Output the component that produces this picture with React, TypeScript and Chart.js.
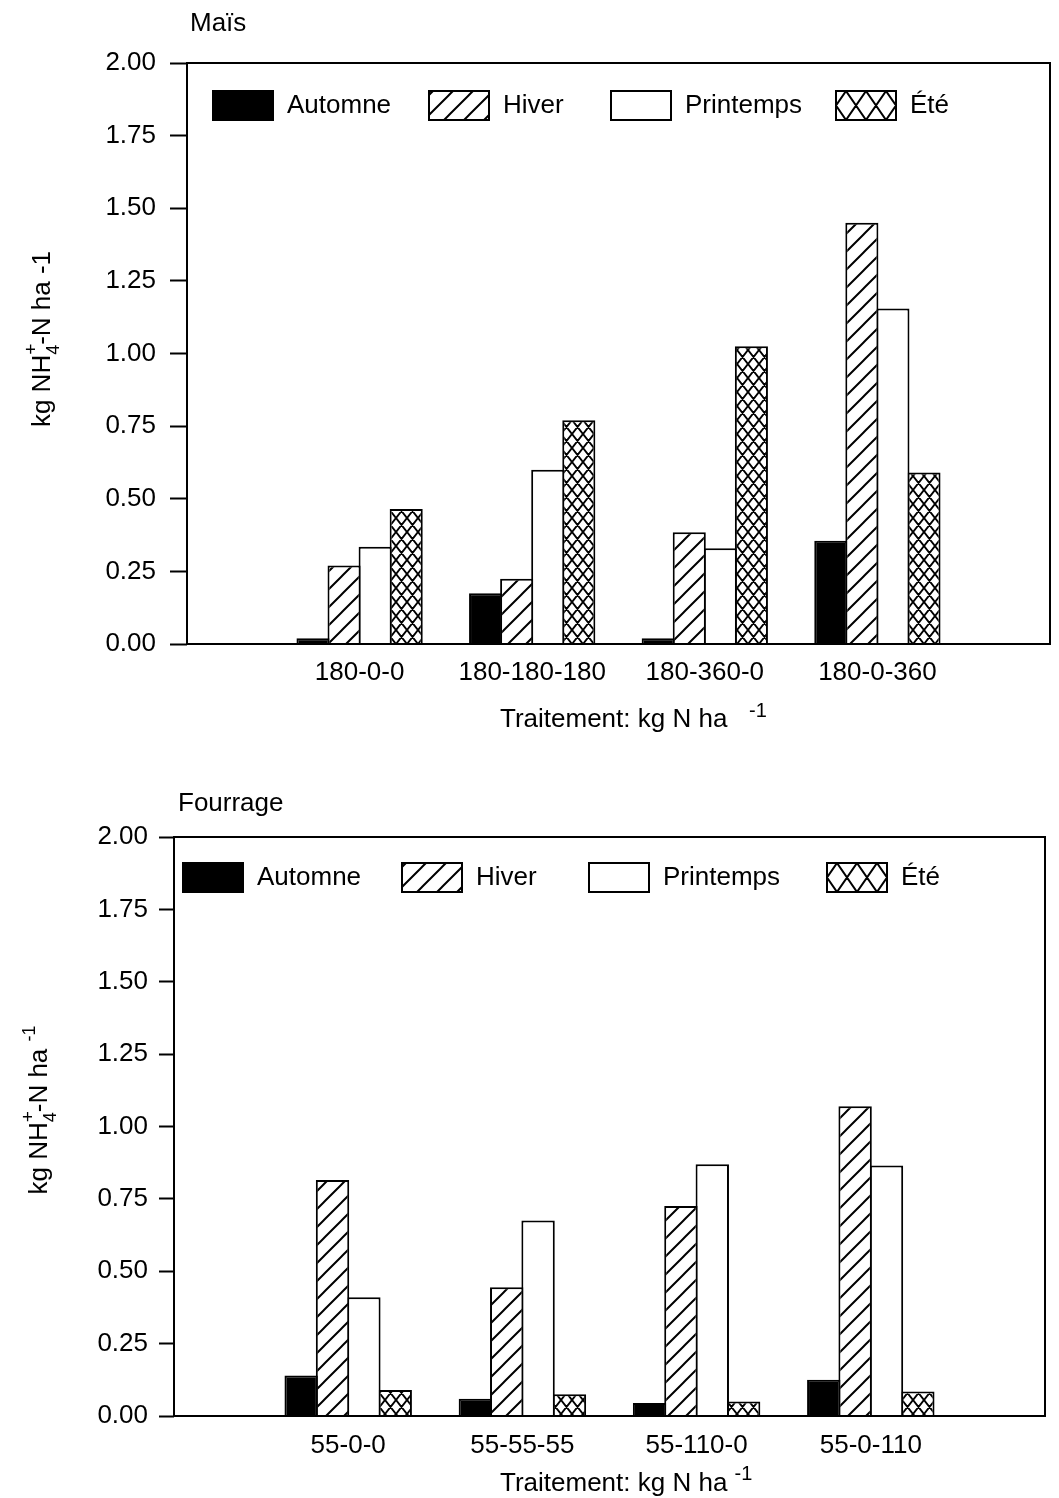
import React, { useEffect, useRef } from 'react';
import { Chart, registerables } from 'chart.js';

Chart.register(...registerables);

// ---------- data ----------
const seasons = ['Automne', 'Hiver', 'Printemps', 'Été'];

const maisTreatments = ['180-0-0', '180-180-180', '180-360-0', '180-0-360'];
const maisAutomne = [0.02, 0.175, 0.02, 0.355];
const maisHiver = [0.27, 0.225, 0.385, 1.45];
const maisPrintemps = [0.335, 0.6, 0.33, 1.155];
const maisEte = [0.465, 0.77, 1.025, 0.59];

const fourrageTreatments = ['55-0-0', '55-55-55', '55-110-0', '55-0-110'];
const fourrageAutomne = [0.14, 0.06, 0.045, 0.125];
const fourrageHiver = [0.815, 0.445, 0.725, 1.07];
const fourragePrintemps = [0.41, 0.675, 0.87, 0.865];
const fourrageEte = [0.09, 0.075, 0.05, 0.085];

const yMin = 0;
const yMax = 2;
const yStep = 0.25;

// ---------- styling ----------
const FONT = '"Liberation Sans", Arial, Helvetica, sans-serif';
const FS = 26;

type Seg = { t: string; size?: number; dy?: number; noAdvance?: boolean };

function makeCanvas(w: number, h: number) {
  const c = document.createElement('canvas');
  c.width = w;
  c.height = h;
  return c;
}

function hatchPattern(size: number, lw: number) {
  const c = makeCanvas(size, size);
  const g = c.getContext('2d')!;
  g.fillStyle = '#fff';
  g.fillRect(0, 0, size, size);
  g.strokeStyle = '#000';
  g.lineWidth = lw;
  g.beginPath();
  for (let i = -1; i <= 1; i++) {
    g.moveTo(i * size - 2, size + 2);
    g.lineTo(i * size + size + 2, -2);
  }
  g.stroke();
  return g.createPattern(c, 'repeat')!;
}

function crossPattern(w: number, h: number, lw: number) {
  const c = makeCanvas(w, h);
  const g = c.getContext('2d')!;
  g.fillStyle = '#fff';
  g.fillRect(0, 0, w, h);
  g.strokeStyle = '#000';
  g.lineWidth = lw;
  g.beginPath();
  for (let i = -1; i <= 1; i++) {
    for (let j = -1; j <= 1; j++) {
      const ox = i * w;
      const oy = j * h;
      g.moveTo(ox, oy);
      g.lineTo(ox + w, oy + h);
      g.moveTo(ox + w, oy);
      g.lineTo(ox, oy + h);
    }
  }
  g.stroke();
  return g.createPattern(c, 'repeat')!;
}

function drawRich(
  ctx: CanvasRenderingContext2D,
  segs: Seg[],
  x: number,
  y: number,
  align: 'left' | 'center',
  rotate: boolean
) {
  ctx.save();
  ctx.translate(x, y);
  if (rotate) ctx.rotate(-Math.PI / 2);
  ctx.textBaseline = 'alphabetic';
  ctx.textAlign = 'left';
  ctx.fillStyle = '#000';
  const widths = segs.map((s) => {
    ctx.font = `${s.size || FS}px ${FONT}`;
    return ctx.measureText(s.t).width;
  });
  let total = 0;
  segs.forEach((s, i) => {
    if (!s.noAdvance) total += widths[i];
  });
  let cx = align === 'center' ? -total / 2 : 0;
  segs.forEach((s, i) => {
    ctx.font = `${s.size || FS}px ${FONT}`;
    ctx.fillText(s.t, cx, s.dy || 0);
    if (!s.noAdvance) cx += widths[i];
  });
  ctx.restore();
}

interface PanelCfg {
  title: string;
  titleX: number;
  titleY: number;
  treatments: string[];
  series: number[][];
  width: number;
  height: number;
  padTop: number;
  padRight: number;
  yAxisWidth: number;
  xAxisHeight: number;
  tickLength: number;
  tickPadding: number;
  xTickPadding: number;
  legendX: number[];
  legendY: number;
  legendBoxH: number;
  yTitle: Seg[];
  yTitleX: number;
  yTitleY: number;
  xTitle: Seg[];
  xTitleX: number;
  xTitleY: number;
}

const topPanel: PanelCfg = {
  title: 'Maïs',
  titleX: 190,
  titleY: 31,
  treatments: maisTreatments,
  series: [maisAutomne, maisHiver, maisPrintemps, maisEte],
  width: 1059,
  height: 745,
  padTop: 63,
  padRight: 9,
  yAxisWidth: 187,
  xAxisHeight: 101,
  tickLength: 17,
  tickPadding: 14,
  xTickPadding: 5,
  legendX: [213, 429, 611, 836],
  legendY: 91,
  legendBoxH: 29,
  yTitle: [
    { t: 'kg NH' },
    { t: '+', size: 19, dy: -13, noAdvance: true },
    { t: '4', size: 18, dy: 9 },
    { t: '-N ha -1' },
  ],
  yTitleX: 50,
  yTitleY: 339,
  xTitle: [{ t: 'Traitement: kg N ha   ' }, { t: '-1', size: 20, dy: -10 }],
  xTitleX: 500,
  xTitleY: 727,
};

const bottomPanel: PanelCfg = {
  title: 'Fourrage',
  titleX: 178,
  titleY: 41,
  treatments: fourrageTreatments,
  series: [fourrageAutomne, fourrageHiver, fourragePrintemps, fourrageEte],
  width: 1059,
  height: 728,
  padTop: 67,
  padRight: 14,
  yAxisWidth: 174,
  xAxisHeight: 82,
  tickLength: 15,
  tickPadding: 11,
  xTickPadding: 6,
  legendX: [183, 402, 589, 827],
  legendY: 93,
  legendBoxH: 29,
  yTitle: [
    { t: 'kg NH' },
    { t: '+', size: 19, dy: -13, noAdvance: true },
    { t: '4', size: 18, dy: 9 },
    { t: '-N ha ' },
    { t: '-1', size: 18, dy: -12 },
  ],
  yTitleX: 47,
  yTitleY: 340,
  xTitle: [{ t: 'Traitement: kg N ha ' }, { t: '-1', size: 20, dy: -11 }],
  xTitleX: 500,
  xTitleY: 721,
};

function createPanel(canvas: HTMLCanvasElement, cfg: PanelCfg) {
  const barHiver = hatchPattern(18, 2);
  const barEte = crossPattern(11, 14, 1.9);
  const fills: (string | CanvasPattern)[] = ['#000', barHiver, '#fff', barEte];

  const datasets = seasons.map((s, i) => ({
    label: s,
    data: [null, ...cfg.series[i], null] as (number | null)[],
    backgroundColor: fills[i] as any,
    borderColor: '#000',
    borderWidth: 2,
    categoryPercentage: 0.72,
    barPercentage: 1.065,
  }));

  const decor = {
    id: 'decor',
    afterDraw(chart: any) {
      const ctx: CanvasRenderingContext2D = chart.ctx;
      const a = chart.chartArea;
      ctx.save();
      // frame
      ctx.strokeStyle = '#000';
      ctx.lineWidth = 2;
      ctx.strokeRect(a.left, a.top, a.right - a.left, a.bottom - a.top);

      // legend
      const boxW = 60;
      const boxH = cfg.legendBoxH;
      seasons.forEach((s, i) => {
        const x = cfg.legendX[i];
        const y = cfg.legendY;
        let fill: string | CanvasPattern = fills[i];
        if (i === 1) {
          const p = hatchPattern(20, 2);
          p.setTransform(new DOMMatrix([1, 0, 0, 1, x, y + 4]));
          fill = p;
        } else if (i === 3) {
          const p = crossPattern(20, boxH, 2);
          p.setTransform(new DOMMatrix([1, 0, 0, 1, x + 10, y]));
          fill = p;
        }
        ctx.fillStyle = fill as any;
        ctx.fillRect(x, y, boxW, boxH);
        ctx.strokeStyle = '#000';
        ctx.lineWidth = 2;
        ctx.strokeRect(x, y, boxW, boxH);
        ctx.fillStyle = '#000';
        ctx.font = `${FS}px ${FONT}`;
        ctx.textBaseline = 'middle';
        ctx.textAlign = 'left';
        ctx.fillText(s, x + boxW + 14, y + boxH / 2);
      });

      // panel title
      ctx.fillStyle = '#000';
      ctx.font = `${FS}px ${FONT}`;
      ctx.textBaseline = 'alphabetic';
      ctx.textAlign = 'left';
      ctx.fillText(cfg.title, cfg.titleX, cfg.titleY);

      // axis titles
      drawRich(ctx, cfg.yTitle, cfg.yTitleX, cfg.yTitleY, 'center', true);
      drawRich(ctx, cfg.xTitle, cfg.xTitleX, cfg.xTitleY, 'left', false);
      ctx.restore();
    },
  };

  return new Chart(canvas, {
    type: 'bar',
    data: { labels: ['', ...cfg.treatments, ''], datasets: datasets as any },
    options: {
      responsive: false,
      animation: false,
      devicePixelRatio: 1,
      layout: { padding: { top: cfg.padTop, right: cfg.padRight, left: 0, bottom: 0 } },
      plugins: {
        legend: { display: false },
        tooltip: { enabled: false },
        title: { display: false },
      },
      scales: {
        x: {
          type: 'category',
          offset: false,
          grid: { display: false },
          border: { display: false },
          ticks: {
            autoSkip: false,
            maxRotation: 0,
            minRotation: 0,
            padding: cfg.xTickPadding,
            color: '#000',
            font: { family: FONT, size: FS },
          },
          afterFit: (s: any) => {
            s.height = cfg.xAxisHeight;
          },
        },
        y: {
          min: yMin,
          max: yMax,
          grid: {
            drawOnChartArea: false,
            drawTicks: true,
            tickLength: cfg.tickLength,
            tickColor: '#000',
            tickWidth: 2,
            color: '#000',
          },
          border: { display: false },
          ticks: {
            stepSize: yStep,
            padding: cfg.tickPadding,
            color: '#000',
            font: { family: FONT, size: FS },
            callback: (v: any) => Number(v).toFixed(2),
          },
          afterFit: (s: any) => {
            s.width = cfg.yAxisWidth;
          },
        },
      } as any,
    },
    plugins: [decor],
  });
}

function Panel({ cfg, top }: { cfg: PanelCfg; top: number }) {
  const ref = useRef<HTMLCanvasElement | null>(null);
  useEffect(() => {
    if (!ref.current) return;
    const chart = createPanel(ref.current, cfg);
    return () => chart.destroy();
  }, [cfg]);
  return (
    <canvas
      ref={ref}
      width={cfg.width}
      height={cfg.height}
      style={{
        position: 'absolute',
        left: 0,
        top,
        width: cfg.width,
        height: cfg.height,
        display: 'block',
      }}
    />
  );
}

export default function App() {
  return (
    <div
      style={{
        position: 'absolute',
        left: 0,
        top: 0,
        width: 1059,
        height: 1498,
        background: '#fff',
        overflow: 'hidden',
      }}
    >
      <Panel cfg={topPanel} top={0} />
      <Panel cfg={bottomPanel} top={770} />
    </div>
  );
}
